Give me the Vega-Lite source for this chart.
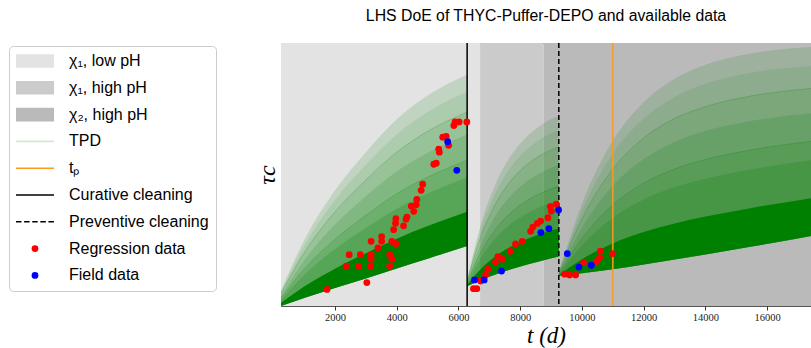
{
  "$schema": "https://vega.github.io/schema/vega-lite/v6.json",
  "autosize": {"type": "none"},
  "padding": {"left": 281, "top": 43, "right": 0, "bottom": 42},
  "width": 530,
  "height": 263,
  "background": "white",
  "title": {"text": "LHS DoE of THYC-Puffer-DEPO and available data", "font": "Liberation Sans", "fontSize": 15.8, "fontWeight": "normal", "color": "black", "offset": 17, "anchor": "middle"},
  "config": {
    "view": {"stroke": "#555555", "strokeWidth": 1},
    "axisX": {"tickCount": 8, "format": "d", "labelFont": "Liberation Serif", "labelFontSize": 10.5, "labelColor": "#222222", "tickColor": "#333333", "tickSize": 4, "labelPadding": 2, "domain": false, "grid": false, "titleFont": "Liberation Serif", "titleFontStyle": "italic", "titleFontSize": 23, "titleFontWeight": "normal", "titleColor": "black", "titlePadding": 2},
    "axisY": {"labels": false, "ticks": false, "domain": false, "grid": false, "titleFont": "Liberation Serif", "titleFontStyle": "italic", "titleFontSize": 24, "titleFontWeight": "normal", "titleColor": "black", "titlePadding": 2}
  },
  "datasets": {
    "fan": [
      {"seg": 1, "t": 250, "lo": 0, "q1": 0.012, "q2": 0.024, "q3": 0.039, "hi": 0.06, "f50": 0.03, "f78": 0.047, "f90": 0.054},
      {"seg": 1, "t": 1000, "lo": 0.03, "q1": 0.074, "q2": 0.118, "q3": 0.173, "hi": 0.25, "f50": 0.14, "f78": 0.202, "f90": 0.228},
      {"seg": 1, "t": 2000, "lo": 0.068, "q1": 0.142, "q2": 0.217, "q3": 0.31, "hi": 0.44, "f50": 0.254, "f78": 0.358, "f90": 0.403},
      {"seg": 1, "t": 3000, "lo": 0.105, "q1": 0.201, "q2": 0.297, "q3": 0.417, "hi": 0.585, "f50": 0.345, "f78": 0.479, "f90": 0.537},
      {"seg": 1, "t": 4000, "lo": 0.143, "q1": 0.256, "q2": 0.37, "q3": 0.512, "hi": 0.71, "f50": 0.427, "f78": 0.585, "f90": 0.653},
      {"seg": 1, "t": 5000, "lo": 0.18, "q1": 0.304, "q2": 0.428, "q3": 0.583, "hi": 0.8, "f50": 0.49, "f78": 0.664, "f90": 0.738},
      {"seg": 1, "t": 6280, "lo": 0.228, "q1": 0.358, "q2": 0.489, "q3": 0.652, "hi": 0.88, "f50": 0.554, "f78": 0.737, "f90": 0.815},
      {"seg": 2, "t": 6280, "lo": 0.075, "q1": 0.08, "q2": 0.085, "q3": 0.091, "hi": 0.1, "f50": 0.088, "f78": 0.095, "f90": 0.098},
      {"seg": 2, "t": 6700, "lo": 0.098, "q1": 0.138, "q2": 0.179, "q3": 0.229, "hi": 0.3, "f50": 0.199, "f78": 0.256, "f90": 0.28},
      {"seg": 2, "t": 7200, "lo": 0.12, "q1": 0.189, "q2": 0.258, "q3": 0.344, "hi": 0.464, "f50": 0.292, "f78": 0.388, "f90": 0.43},
      {"seg": 2, "t": 7700, "lo": 0.14, "q1": 0.226, "q2": 0.313, "q3": 0.421, "hi": 0.572, "f50": 0.356, "f78": 0.477, "f90": 0.529},
      {"seg": 2, "t": 8200, "lo": 0.157, "q1": 0.254, "q2": 0.351, "q3": 0.473, "hi": 0.643, "f50": 0.4, "f78": 0.536, "f90": 0.594},
      {"seg": 2, "t": 8700, "lo": 0.172, "q1": 0.276, "q2": 0.379, "q3": 0.509, "hi": 0.69, "f50": 0.431, "f78": 0.576, "f90": 0.638},
      {"seg": 2, "t": 9250, "lo": 0.188, "q1": 0.295, "q2": 0.402, "q3": 0.536, "hi": 0.723, "f50": 0.456, "f78": 0.605, "f90": 0.67},
      {"seg": 3, "t": 9250, "lo": 0.115, "q1": 0.118, "q2": 0.121, "q3": 0.125, "hi": 0.13, "f50": 0.123, "f78": 0.127, "f90": 0.129},
      {"seg": 3, "t": 10000, "lo": 0.125, "q1": 0.178, "q2": 0.231, "q3": 0.297, "hi": 0.389, "f50": 0.257, "f78": 0.331, "f90": 0.363},
      {"seg": 3, "t": 11000, "lo": 0.14, "q1": 0.238, "q2": 0.336, "q3": 0.458, "hi": 0.629, "f50": 0.385, "f78": 0.521, "f90": 0.58},
      {"seg": 3, "t": 12000, "lo": 0.158, "q1": 0.281, "q2": 0.405, "q3": 0.559, "hi": 0.775, "f50": 0.467, "f78": 0.639, "f90": 0.713},
      {"seg": 3, "t": 13000, "lo": 0.177, "q1": 0.314, "q2": 0.452, "q3": 0.624, "hi": 0.864, "f50": 0.521, "f78": 0.713, "f90": 0.795},
      {"seg": 3, "t": 14000, "lo": 0.196, "q1": 0.34, "q2": 0.484, "q3": 0.665, "hi": 0.917, "f50": 0.557, "f78": 0.758, "f90": 0.845},
      {"seg": 3, "t": 15500, "lo": 0.226, "q1": 0.373, "q2": 0.52, "q3": 0.704, "hi": 0.961, "f50": 0.594, "f78": 0.799, "f90": 0.888},
      {"seg": 3, "t": 17420, "lo": 0.266, "q1": 0.41, "q2": 0.554, "q3": 0.733, "hi": 0.985, "f50": 0.626, "f78": 0.827, "f90": 0.913}
    ],
    "points": [
      {"series": "Regression data", "t": 1740, "y": 0.063},
      {"series": "Regression data", "t": 3030, "y": 0.089},
      {"series": "Regression data", "t": 2360, "y": 0.152},
      {"series": "Regression data", "t": 2770, "y": 0.152},
      {"series": "Regression data", "t": 3150, "y": 0.152},
      {"series": "Regression data", "t": 3770, "y": 0.152},
      {"series": "Regression data", "t": 2460, "y": 0.195},
      {"series": "Regression data", "t": 2820, "y": 0.195},
      {"series": "Regression data", "t": 3170, "y": 0.195},
      {"series": "Regression data", "t": 3770, "y": 0.195},
      {"series": "Regression data", "t": 3170, "y": 0.178},
      {"series": "Regression data", "t": 3840, "y": 0.178},
      {"series": "Regression data", "t": 3390, "y": 0.221},
      {"series": "Regression data", "t": 3170, "y": 0.246},
      {"series": "Regression data", "t": 3510, "y": 0.264},
      {"series": "Regression data", "t": 3510, "y": 0.246},
      {"series": "Regression data", "t": 3840, "y": 0.246},
      {"series": "Regression data", "t": 3980, "y": 0.237},
      {"series": "Regression data", "t": 3900, "y": 0.29},
      {"series": "Regression data", "t": 3960, "y": 0.315},
      {"series": "Regression data", "t": 3970, "y": 0.332},
      {"series": "Regression data", "t": 4220, "y": 0.305},
      {"series": "Regression data", "t": 4300, "y": 0.33},
      {"series": "Regression data", "t": 4330, "y": 0.338},
      {"series": "Regression data", "t": 4470, "y": 0.38},
      {"series": "Regression data", "t": 4550, "y": 0.36},
      {"series": "Regression data", "t": 4630, "y": 0.385},
      {"series": "Regression data", "t": 4650, "y": 0.405},
      {"series": "Regression data", "t": 4790, "y": 0.44},
      {"series": "Regression data", "t": 4840, "y": 0.463},
      {"series": "Regression data", "t": 5200, "y": 0.539},
      {"series": "Regression data", "t": 5280, "y": 0.543},
      {"series": "Regression data", "t": 5360, "y": 0.596},
      {"series": "Regression data", "t": 5380, "y": 0.585},
      {"series": "Regression data", "t": 5490, "y": 0.642},
      {"series": "Regression data", "t": 5600, "y": 0.645},
      {"series": "Regression data", "t": 5680, "y": 0.611},
      {"series": "Regression data", "t": 5850, "y": 0.686},
      {"series": "Regression data", "t": 5890, "y": 0.7},
      {"series": "Regression data", "t": 6020, "y": 0.7},
      {"series": "Regression data", "t": 6270, "y": 0.7},
      {"series": "Regression data", "t": 6486, "y": 0.066},
      {"series": "Regression data", "t": 6593, "y": 0.066},
      {"series": "Regression data", "t": 6713, "y": 0.095},
      {"series": "Regression data", "t": 6875, "y": 0.118},
      {"series": "Regression data", "t": 6950, "y": 0.14},
      {"series": "Regression data", "t": 7200, "y": 0.167},
      {"series": "Regression data", "t": 7274, "y": 0.188},
      {"series": "Regression data", "t": 7417, "y": 0.178},
      {"series": "Regression data", "t": 7676, "y": 0.208},
      {"series": "Regression data", "t": 7848, "y": 0.236},
      {"series": "Regression data", "t": 8066, "y": 0.246},
      {"series": "Regression data", "t": 8335, "y": 0.284},
      {"series": "Regression data", "t": 8410, "y": 0.3},
      {"series": "Regression data", "t": 8552, "y": 0.314},
      {"series": "Regression data", "t": 8659, "y": 0.323},
      {"series": "Regression data", "t": 8896, "y": 0.336},
      {"series": "Regression data", "t": 8974, "y": 0.378},
      {"series": "Regression data", "t": 9006, "y": 0.361},
      {"series": "Regression data", "t": 9168, "y": 0.387},
      {"series": "Regression data", "t": 9438, "y": 0.121},
      {"series": "Regression data", "t": 9600, "y": 0.118},
      {"series": "Regression data", "t": 9795, "y": 0.118},
      {"series": "Regression data", "t": 10054, "y": 0.165},
      {"series": "Regression data", "t": 10466, "y": 0.169},
      {"series": "Regression data", "t": 10573, "y": 0.184},
      {"series": "Regression data", "t": 10596, "y": 0.209},
      {"series": "Regression data", "t": 10985, "y": 0.199},
      {"series": "Field data", "t": 5650, "y": 0.625},
      {"series": "Field data", "t": 5945, "y": 0.516},
      {"series": "Field data", "t": 6518, "y": 0.099},
      {"series": "Field data", "t": 6833, "y": 0.099},
      {"series": "Field data", "t": 7394, "y": 0.133},
      {"series": "Field data", "t": 8669, "y": 0.279},
      {"series": "Field data", "t": 8928, "y": 0.294},
      {"series": "Field data", "t": 9243, "y": 0.365},
      {"series": "Field data", "t": 9525, "y": 0.199},
      {"series": "Field data", "t": 9901, "y": 0.148},
      {"series": "Field data", "t": 10304, "y": 0.155}
    ]
  },
  "layer": [
    {
      "data": {"values": [{"name": "χ₁, low pH", "t0": 250, "t1": 6700}]},
      "mark": {"type": "rect", "color": "#e3e3e3", "opacity": 1},
      "encoding": {
        "x": {"field": "t0", "type": "quantitative", "title": "t (d)", "scale": {"domain": [250, 17420], "nice": false, "zero": false}},
        "x2": {"field": "t1"}
      }
    },
    {
      "data": {"values": [{"name": "χ₁, high pH", "t0": 6700, "t1": 8760}]},
      "mark": {"type": "rect", "color": "#cbcbcb", "opacity": 1},
      "encoding": {
        "x": {"field": "t0", "type": "quantitative", "title": "t (d)", "scale": {"domain": [250, 17420], "nice": false, "zero": false}},
        "x2": {"field": "t1"}
      }
    },
    {
      "data": {"values": [{"name": "χ₂, high pH", "t0": 8760, "t1": 17420}]},
      "mark": {"type": "rect", "color": "#bababa", "opacity": 1},
      "encoding": {
        "x": {"field": "t0", "type": "quantitative", "title": "t (d)", "scale": {"domain": [250, 17420], "nice": false, "zero": false}},
        "x2": {"field": "t1"}
      }
    },
    {
      "data": {"name": "fan"},
      "mark": {"type": "area", "color": "#008000", "opacity": 0.15, "interpolate": "monotone", "clip": true},
      "encoding": {
        "x": {"field": "t", "type": "quantitative", "title": "t (d)", "scale": {"domain": [250, 17420], "nice": false, "zero": false}},
        "y": {"field": "lo", "type": "quantitative", "title": "τc", "scale": {"domain": [0, 1], "nice": false, "zero": false}},
        "y2": {"field": "hi"},
        "detail": {"field": "seg", "type": "nominal"}
      }
    },
    {
      "data": {"name": "fan"},
      "mark": {"type": "area", "color": "#008000", "opacity": 0.1, "interpolate": "monotone", "clip": true},
      "encoding": {
        "x": {"field": "t", "type": "quantitative", "title": "t (d)", "scale": {"domain": [250, 17420], "nice": false, "zero": false}},
        "y": {"field": "lo", "type": "quantitative", "title": "τc", "scale": {"domain": [0, 1], "nice": false, "zero": false}},
        "y2": {"field": "f90"},
        "detail": {"field": "seg", "type": "nominal"}
      }
    },
    {
      "data": {"name": "fan"},
      "mark": {"type": "area", "color": "#008000", "opacity": 0.12, "interpolate": "monotone", "clip": true},
      "encoding": {
        "x": {"field": "t", "type": "quantitative", "title": "t (d)", "scale": {"domain": [250, 17420], "nice": false, "zero": false}},
        "y": {"field": "lo", "type": "quantitative", "title": "τc", "scale": {"domain": [0, 1], "nice": false, "zero": false}},
        "y2": {"field": "f78"},
        "detail": {"field": "seg", "type": "nominal"}
      }
    },
    {
      "data": {"name": "fan"},
      "mark": {"type": "area", "color": "#008000", "opacity": 0.15, "interpolate": "monotone", "clip": true},
      "encoding": {
        "x": {"field": "t", "type": "quantitative", "title": "t (d)", "scale": {"domain": [250, 17420], "nice": false, "zero": false}},
        "y": {"field": "lo", "type": "quantitative", "title": "τc", "scale": {"domain": [0, 1], "nice": false, "zero": false}},
        "y2": {"field": "q3"},
        "detail": {"field": "seg", "type": "nominal"}
      }
    },
    {
      "data": {"name": "fan"},
      "mark": {"type": "area", "color": "#008000", "opacity": 0.15, "interpolate": "monotone", "clip": true},
      "encoding": {
        "x": {"field": "t", "type": "quantitative", "title": "t (d)", "scale": {"domain": [250, 17420], "nice": false, "zero": false}},
        "y": {"field": "lo", "type": "quantitative", "title": "τc", "scale": {"domain": [0, 1], "nice": false, "zero": false}},
        "y2": {"field": "f50"},
        "detail": {"field": "seg", "type": "nominal"}
      }
    },
    {
      "data": {"name": "fan"},
      "mark": {"type": "area", "color": "#008000", "opacity": 0.2, "interpolate": "monotone", "clip": true},
      "encoding": {
        "x": {"field": "t", "type": "quantitative", "title": "t (d)", "scale": {"domain": [250, 17420], "nice": false, "zero": false}},
        "y": {"field": "lo", "type": "quantitative", "title": "τc", "scale": {"domain": [0, 1], "nice": false, "zero": false}},
        "y2": {"field": "q2"},
        "detail": {"field": "seg", "type": "nominal"}
      }
    },
    {
      "data": {"name": "fan"},
      "mark": {"type": "area", "color": "#008000", "opacity": 1, "interpolate": "monotone", "clip": true},
      "encoding": {
        "x": {"field": "t", "type": "quantitative", "title": "t (d)", "scale": {"domain": [250, 17420], "nice": false, "zero": false}},
        "y": {"field": "lo", "type": "quantitative", "title": "τc", "scale": {"domain": [0, 1], "nice": false, "zero": false}},
        "y2": {"field": "q1"},
        "detail": {"field": "seg", "type": "nominal"}
      }
    },
    {
      "data": {"name": "fan"},
      "mark": {"type": "line", "color": "#008000", "opacity": 0.22, "strokeWidth": 1, "interpolate": "monotone", "clip": true},
      "encoding": {
        "x": {"field": "t", "type": "quantitative", "title": "t (d)", "scale": {"domain": [250, 17420], "nice": false, "zero": false}},
        "y": {"field": "f50", "type": "quantitative", "title": "τc", "scale": {"domain": [0, 1], "nice": false, "zero": false}},
        "detail": {"field": "seg", "type": "nominal"}
      }
    },
    {
      "data": {"name": "fan"},
      "mark": {"type": "line", "color": "#008000", "opacity": 0.22, "strokeWidth": 1, "interpolate": "monotone", "clip": true},
      "encoding": {
        "x": {"field": "t", "type": "quantitative", "title": "t (d)", "scale": {"domain": [250, 17420], "nice": false, "zero": false}},
        "y": {"field": "f78", "type": "quantitative", "title": "τc", "scale": {"domain": [0, 1], "nice": false, "zero": false}},
        "detail": {"field": "seg", "type": "nominal"}
      }
    },
    {
      "data": {"values": [{"name": "Curative cleaning", "t": 6280}]},
      "mark": {"type": "rule", "strokeWidth": 1.5, "color": "#000000"},
      "encoding": {
        "x": {"field": "t", "type": "quantitative", "title": "t (d)", "scale": {"domain": [250, 17420], "nice": false, "zero": false}}
      }
    },
    {
      "data": {"values": [{"name": "tₚ", "t": 11000}]},
      "mark": {"type": "rule", "strokeWidth": 1.5, "color": "#fb9a1e"},
      "encoding": {
        "x": {"field": "t", "type": "quantitative", "title": "t (d)", "scale": {"domain": [250, 17420], "nice": false, "zero": false}}
      }
    },
    {
      "data": {"values": [{"name": "Preventive cleaning", "t": 9250}]},
      "mark": {"type": "rule", "strokeWidth": 1.5, "strokeDash": [5, 3], "color": "#000000"},
      "encoding": {
        "x": {"field": "t", "type": "quantitative", "title": "t (d)", "scale": {"domain": [250, 17420], "nice": false, "zero": false}}
      }
    },
    {
      "data": {"name": "points"},
      "mark": {"type": "point", "filled": true, "size": 46, "opacity": 1, "strokeWidth": 0},
      "encoding": {
        "x": {"field": "t", "type": "quantitative", "title": "t (d)", "scale": {"domain": [250, 17420], "nice": false, "zero": false}},
        "y": {"field": "y", "type": "quantitative", "title": "τc", "scale": {"domain": [0, 1], "nice": false, "zero": false}},
        "shape": {
          "field": "series", "type": "nominal",
          "scale": {"domain": ["χ₁, low pH", "χ₁, high pH", "χ₂, high pH", "TPD", "tₚ", "Curative cleaning", "Preventive cleaning", "Regression data", "Field data"],
                    "range": ["M-5.6,-2H5.6V2H-5.6Z", "M-5.6,-2H5.6V2H-5.6Z", "M-5.6,-2H5.6V2H-5.6Z", "M-5.6,-0.23H5.6V0.23H-5.6Z", "M-5.6,-0.23H5.6V0.23H-5.6Z", "M-5.6,-0.23H5.6V0.23H-5.6Z", "M-5.6,-0.23H-3.98V0.23H-5.6ZM-3.21,-0.23H-1.59V0.23H-3.21ZM-0.82,-0.23H0.8V0.23H-0.82ZM1.57,-0.23H3.19V0.23H1.57ZM3.96,-0.23H5.58V0.23H3.96Z", "circle", "circle"]},
          "legend": {
            "title": null, "orient": "none", "legendX": -272, "legendY": 3,
            "symbolSize": 46, "symbolOffset": 11, "symbolStrokeWidth": 0, "symbolOpacity": 1,
            "labelFont": "Liberation Sans", "labelFontSize": 16, "labelColor": "black", "labelOffset": 26, "labelLimit": 300,
            "rowPadding": 10.8, "padding": 7, "strokeColor": "#cccccc", "cornerRadius": 4, "fillColor": "white"
          }
        },
        "color": {
          "field": "series", "type": "nominal",
          "scale": {"domain": ["χ₁, low pH", "χ₁, high pH", "χ₂, high pH", "TPD", "tₚ", "Curative cleaning", "Preventive cleaning", "Regression data", "Field data"], "range": ["#e3e3e3", "#cbcbcb", "#bababa", "#d3e8d3", "#fb9a1e", "#000000", "#000000", "#ff0000", "#0000ff"]},
          "legend": {
            "title": null, "orient": "none", "legendX": -272, "legendY": 3,
            "symbolSize": 46, "symbolOffset": 11, "symbolStrokeWidth": 0, "symbolOpacity": 1,
            "labelFont": "Liberation Sans", "labelFontSize": 16, "labelColor": "black", "labelOffset": 26, "labelLimit": 300,
            "rowPadding": 10.8, "padding": 7, "strokeColor": "#cccccc", "cornerRadius": 4, "fillColor": "white"
          }
        }
      }
    }
  ]
}
